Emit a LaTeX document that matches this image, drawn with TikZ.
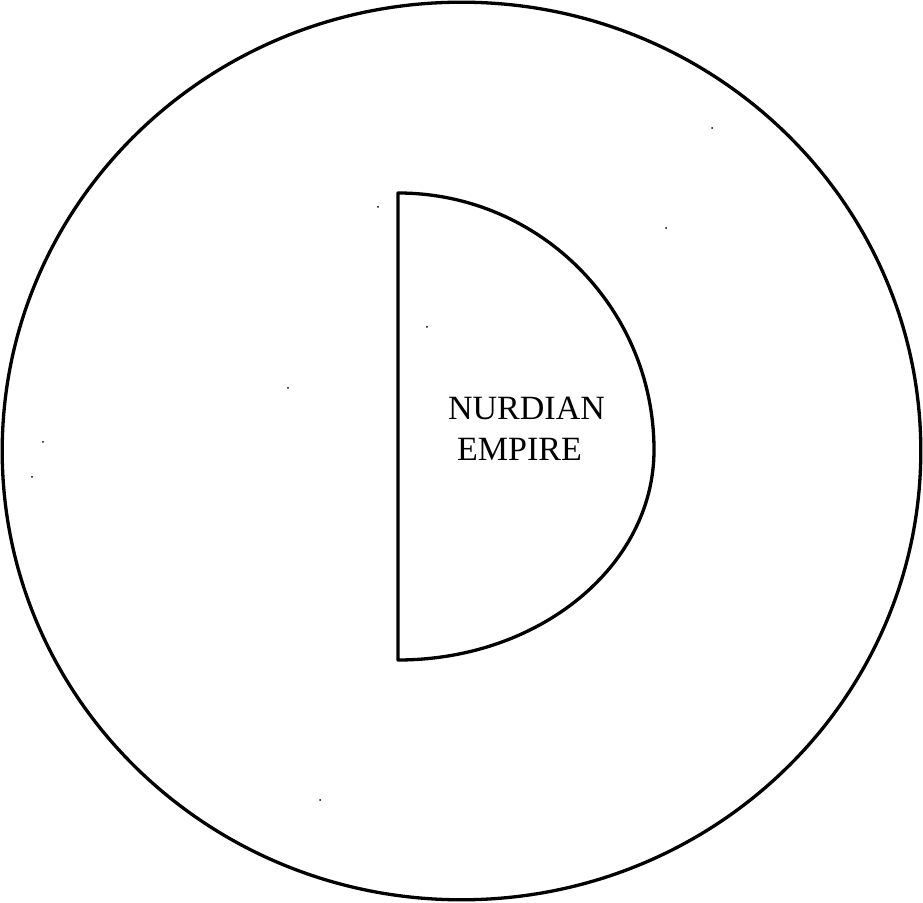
\documentclass[tikz,border=0pt]{standalone}
\usepackage{fontspec}
\setmainfont{Liberation Serif}
\usetikzlibrary{positioning}

\begin{document}
\begin{tikzpicture}[x=1pt, y=1pt, line cap=round, line join=round]
  \def\W{923}     % picture width
  \def\H{902}     % picture height
  \def\fx{398}    % flat side of the empire
  \def\tx{654}    % right-most point of the empire

  \tikzset{border/.style={draw, line width=3.3pt},
           label text/.style={font=\fontsize{34}{41}\selectfont, inner sep=0pt},
           speck/.style={fill=black}}

  \useasboundingbox (0,0) rectangle (\W,\H);

  % World
  \draw[border] (461.5,451) ellipse[x radius=459.3, y radius=448.8];

  % Empire
  \draw[border] (\fx,709)
    arc[start angle=90, end angle=0, x radius=\tx-\fx, y radius=257]
    arc[start angle=0, end angle=-90, x radius=\tx-\fx, y radius=210]
    -- cycle;
  \node[label text] (nurdian) at (526.5,494) {NURDIAN};
  \node[label text] (empire) at (519.5,453) {EMPIRE};

  % Specks
  \foreach \p in {(378,695),(427,575),(666,674),(712,774),(288,514),
                  (43,460),(32,425),(320,102)}
    \fill[speck] \p circle[radius=1];

\end{tikzpicture}
\end{document}
